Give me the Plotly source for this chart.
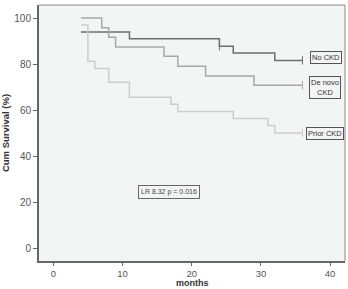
import plotly.graph_objects as go

# Kaplan-Meier step data (months, cumulative survival %)
no_ckd_x = [4, 11, 24, 26, 32, 36]
no_ckd_y = [94.0, 91.0, 87.8, 84.8, 81.6, 81.6]

denovo_x = [4, 7, 8, 9, 16, 18, 22, 29, 36]
denovo_y = [100.0, 95.8, 91.7, 87.4, 83.4, 79.1, 74.8, 70.8, 70.8]

prior_x = [4, 5, 6, 8, 11, 17, 18, 26, 31, 32, 36]
prior_y = [97.0, 81.2, 78.1, 72.1, 65.6, 62.5, 59.4, 56.4, 53.3, 50.1, 50.1]

# censor marks
no_ckd_cx = [24, 36]
no_ckd_cy = [87.8, 81.6]
denovo_cx = [36]
denovo_cy = [70.8]
prior_cx = [36]
prior_cy = [50.1]

labels = ["No CKD", "De novo<br>CKD", "Prior CKD"]
label_x = [39.4, 39.2, 39.3]
label_y = [82.9, 69.7, 49.8]
stat_text = "LR 8.32 p = 0.016"

x_ticks = [0, 10, 20, 30, 40]
y_ticks = [0, 20, 40, 60, 80, 100]

colors = ["#6e6e6e", "#a8a8a8", "#cdcdcd"]

fig = go.Figure()
series = [(no_ckd_x, no_ckd_y, no_ckd_cx, no_ckd_cy),
          (denovo_x, denovo_y, denovo_cx, denovo_cy),
          (prior_x, prior_y, prior_cx, prior_cy)]
for (xs, ys, cx, cy), c in zip(series, colors):
    fig.add_trace(go.Scatter(x=xs, y=ys, mode="lines", line=dict(color=c, width=1.5, shape="hv"),
                             showlegend=False, hoverinfo="skip"))
    fig.add_trace(go.Scatter(x=cx, y=cy, mode="markers",
                             marker=dict(symbol="line-ns-open", size=6, color=c, line=dict(color=c, width=1)),
                             showlegend=False, hoverinfo="skip"))

for t, x, y in zip(labels, label_x, label_y):
    fig.add_annotation(x=x, y=y, text=t, showarrow=False, xanchor="center", yanchor="middle",
                       font=dict(family="Liberation Sans, Arial", size=7.5, color="#333"),
                       bordercolor="#555", borderwidth=1, borderpad=1, bgcolor="#f3f4f4")

fig.add_annotation(x=16.7, y=24.4, text=stat_text, showarrow=False, xanchor="center", yanchor="middle",
                   font=dict(family="Liberation Sans, Arial", size=7, color="#444"),
                   bordercolor="#666", borderwidth=1, borderpad=2, bgcolor="#f3f4f4")

# x-axis title placed just below tick labels
fig.add_annotation(xref="paper", yref="paper", x=0.5, y=0, yanchor="bottom", yshift=-28,
                   text="<b>months</b>", showarrow=False, borderpad=0,
                   font=dict(family="Liberation Sans, Arial", size=9, color="#333"))

# top and right frame lines
fig.add_shape(type="line", xref="paper", yref="paper", x0=0, x1=1, y0=1, y1=1,
              line=dict(color="#8a8a8a", width=1))
fig.add_shape(type="line", xref="paper", yref="paper", x0=1, x1=1, y0=0, y1=1,
              line=dict(color="#8a8a8a", width=1))

fig.update_layout(
    width=348, height=289,
    margin=dict(l=39, r=3, t=5, b=28),
    paper_bgcolor="white", plot_bgcolor="#f3f4f4",
    font=dict(family="Liberation Sans, Arial", color="#555"),
    xaxis=dict(range=[-2.07, 42.15], tickvals=x_ticks, ticks="outside", ticklen=3, tickcolor="#666",
               showgrid=False, zeroline=False, showline=True, linecolor="#666", linewidth=2,
               tickfont=dict(size=9.5, color="#555"), automargin=False),
    yaxis=dict(range=[-5.6, 105.7], tickvals=y_ticks, ticks="outside", ticklen=4, tickcolor="#666",
               showgrid=False, zeroline=False, showline=True, linecolor="#666", linewidth=2,
               tickfont=dict(size=10, color="#555"), automargin=False,
               title=dict(text="<b>Cum Survival (%)</b>", font=dict(size=9.5, color="#333"), standoff=4)),
)

fig.write_html("out.html")
